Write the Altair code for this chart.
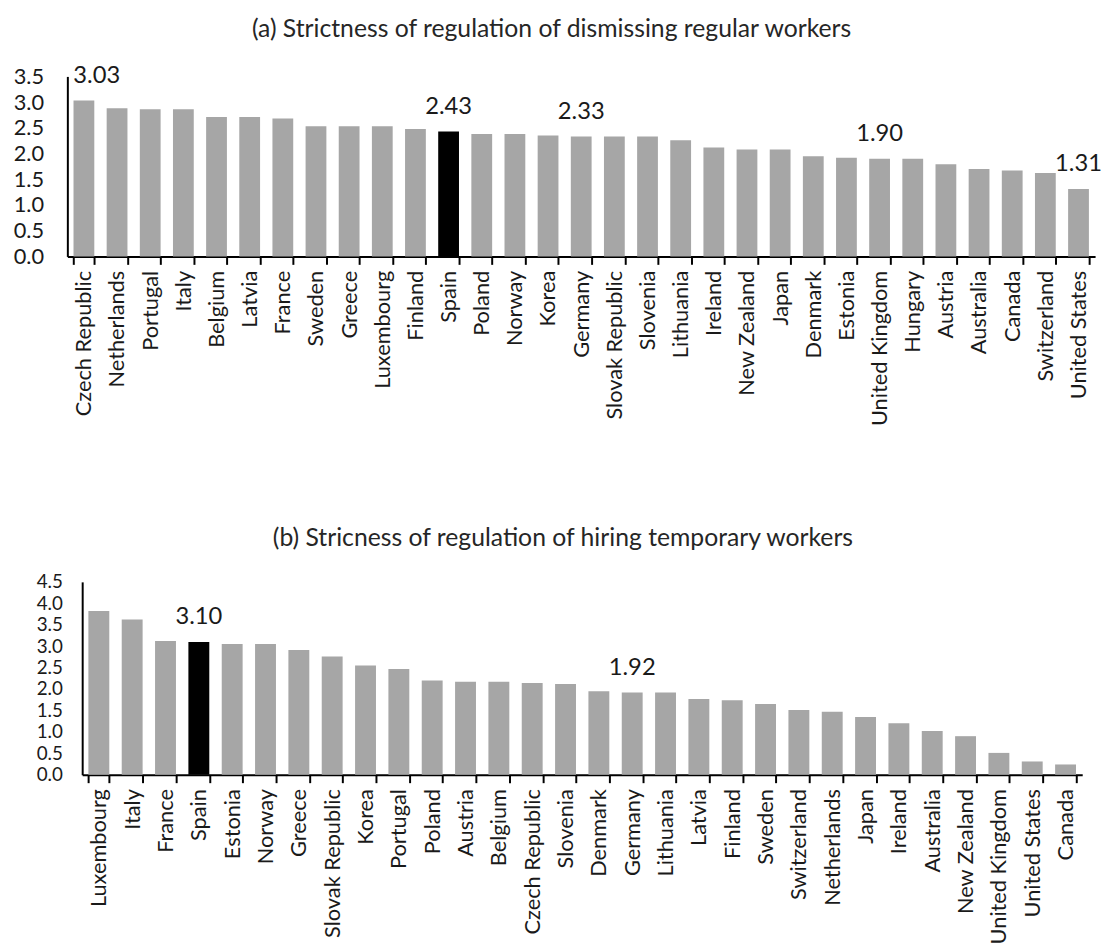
import altair as alt
import pandas as pd

FONT = "Lato"
TXT = "#1a1a1a"

# ---------------- data ----------------
top_title = "(a) Strictness of regulation of dismissing regular workers"
top_countries = ["Czech Republic", "Netherlands", "Portugal", "Italy", "Belgium", "Latvia",
                 "France", "Sweden", "Greece", "Luxembourg", "Finland", "Spain", "Poland",
                 "Norway", "Korea", "Germany", "Slovak Republic", "Slovenia", "Lithuania",
                 "Ireland", "New Zealand", "Japan", "Denmark", "Estonia", "United Kingdom",
                 "Hungary", "Austria", "Australia", "Canada", "Switzerland", "United States"]
top_values = [3.03, 2.88, 2.86, 2.86, 2.71, 2.71, 2.68, 2.53, 2.53, 2.53, 2.48, 2.43, 2.38,
              2.38, 2.35, 2.33, 2.33, 2.33, 2.26, 2.12, 2.08, 2.08, 1.95, 1.92, 1.90,
              1.90, 1.79, 1.70, 1.67, 1.62, 1.31]
top_labelled = ["Czech Republic", "Spain", "Germany", "United Kingdom", "United States"]
top_ticks = [0.0, 0.5, 1.0, 1.5, 2.0, 2.5, 3.0, 3.5]

bottom_title = "(b) Stricness of regulation of hiring temporary workers"
bottom_countries = ["Luxembourg", "Italy", "France", "Spain", "Estonia", "Norway", "Greece",
                    "Slovak Republic", "Korea", "Portugal", "Poland", "Austria", "Belgium",
                    "Czech Republic", "Slovenia", "Denmark", "Germany", "Lithuania", "Latvia",
                    "Finland", "Sweden", "Switzerland", "Netherlands", "Japan", "Ireland",
                    "Australia", "New Zealand", "United Kingdom", "United States", "Canada"]
bottom_values = [3.82, 3.62, 3.12, 3.10, 3.05, 3.05, 2.91, 2.76, 2.55, 2.47, 2.20, 2.17, 2.17,
                 2.14, 2.12, 1.95, 1.92, 1.92, 1.77, 1.74, 1.65, 1.51, 1.47, 1.35, 1.20,
                 1.02, 0.90, 0.51, 0.31, 0.24]
bottom_labelled = ["Spain", "Germany"]
bottom_ticks = [0.0, 0.5, 1.0, 1.5, 2.0, 2.5, 3.0, 3.5, 4.0, 4.5]

highlight = "Spain"


def panel(countries, values, labelled, ticks, width, height, title, title_dx,
          ylabel_pad, ylabel_size, inset=0, shifted_label=None, shift_dx=0):
    df = pd.DataFrame({"country": countries, "value": values})
    df["label"] = [f"{v:.2f}" if c in labelled else "" for c, v in zip(countries, values)]
    df["hl"] = [c == highlight for c in countries]

    if inset:
        x_scale = alt.Scale(paddingInner=0.373, paddingOuter=0.186, range=[inset, width])
    else:
        x_scale = alt.Scale(paddingInner=0.373, paddingOuter=0.186)
    x = alt.X("country:N", sort=countries, scale=x_scale,
              axis=alt.Axis(title=None, labelAngle=-90, labelFontSize=22, labelFont=FONT,
                            labelColor=TXT, tickBand="extent", tickColor="black",
                            tickWidth=2, tickSize=8, domainColor="black", domainWidth=2,
                            labelPadding=6, labelLimit=400))
    y_axis = dict(title=None, values=ticks, format=".1f", ticks=False, grid=False,
                  domainColor="black", domainWidth=2, labelFontSize=ylabel_size,
                  labelOverlap=False, labelFont=FONT, labelColor=TXT,
                  labelPadding=ylabel_pad)
    if inset:
        y_axis["offset"] = -inset
    y = alt.Y("value:Q",
              scale=alt.Scale(domain=[ticks[0], ticks[-1]], nice=False),
              axis=alt.Axis(**y_axis))

    bars = alt.Chart(df).mark_bar().encode(
        x=x, y=y,
        color=alt.condition("datum.hl", alt.value("#000000"), alt.value("#a6a6a6")),
    )

    labs = alt.Chart(df).transform_filter("datum.label != ''")
    main = labs.transform_filter(f"datum.country != '{shifted_label}'").mark_text(
        dy=-25, fontSize=24, font=FONT, color=TXT, baseline="middle"
    ).encode(x=x, y=y, text="label:N")
    layers = [bars, main]
    if shifted_label:
        shifted = labs.transform_filter(f"datum.country == '{shifted_label}'").mark_text(
            dy=-25, dx=shift_dx, fontSize=24, font=FONT, color=TXT, baseline="middle"
        ).encode(x=x, y=y, text="label:N")
        layers.append(shifted)

    return alt.layer(*layers).properties(
        width=width, height=height,
        title=alt.TitleParams(title, fontSize=25, font=FONT, color="#262626",
                              fontWeight="normal", anchor="middle", dx=title_dx, offset=22),
    )


top = panel(top_countries, top_values, top_labelled, top_ticks, 1039, 182, top_title, -30,
            24, 22, shifted_label="Czech Republic", shift_dx=13)
bottom = panel(bottom_countries, bottom_values, bottom_labelled, bottom_ticks, 1026, 195,
               bottom_title, -12, 20, 19, inset=15)

chart = alt.vconcat(top, bottom, spacing=101).properties(
    padding={"top": 4, "left": 5, "right": 0, "bottom": 0}
).configure(background="white").configure_view(stroke=None)

chart.save("out.html", embed_options={"renderer": "svg", "actions": False})
